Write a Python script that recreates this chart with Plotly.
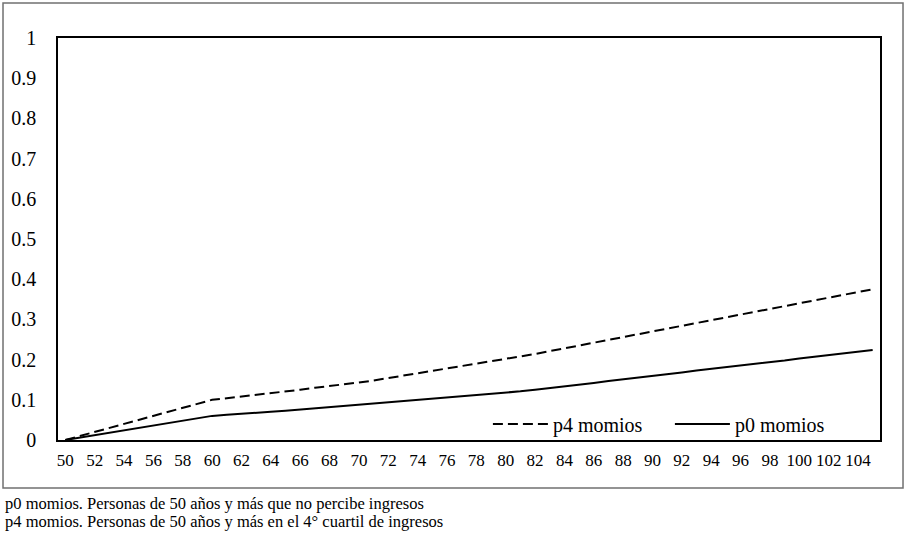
import plotly.graph_objects as go

# Ages (x axis) and the two series
ages = list(range(50, 106))

p4_momios = [
    0.000, 0.010, 0.020, 0.030, 0.040, 0.050, 0.060, 0.070, 0.080, 0.090,
    0.100, 0.104, 0.108, 0.113, 0.117, 0.121, 0.125, 0.130, 0.134, 0.138,
    0.143, 0.148, 0.154, 0.159, 0.165, 0.171, 0.177, 0.183, 0.189, 0.195,
    0.201, 0.208, 0.214, 0.221, 0.228, 0.235, 0.242, 0.249, 0.256, 0.263,
    0.270, 0.277, 0.284, 0.291, 0.298, 0.305, 0.312, 0.319, 0.326, 0.333,
    0.340, 0.347, 0.354, 0.361, 0.368, 0.375,
]

p0_momios = [
    0.000, 0.006, 0.012, 0.018, 0.024, 0.030, 0.036, 0.042, 0.048, 0.054,
    0.060, 0.063, 0.065, 0.068, 0.070, 0.073, 0.076, 0.078, 0.081, 0.084,
    0.087, 0.090, 0.093, 0.096, 0.099, 0.102, 0.105, 0.108, 0.111, 0.114,
    0.117, 0.121, 0.125, 0.129, 0.134, 0.138, 0.142, 0.147, 0.151, 0.156,
    0.160, 0.164, 0.168, 0.173, 0.177, 0.181, 0.185, 0.190, 0.194, 0.198,
    0.203, 0.207, 0.211, 0.215, 0.220, 0.224,
]

x_ticks = list(range(50, 105, 2))
y_ticks = [0, 0.1, 0.2, 0.3, 0.4, 0.5, 0.6, 0.7, 0.8, 0.9, 1]
y_tick_labels = ["0", "0.1", "0.2", "0.3", "0.4", "0.5", "0.6", "0.7", "0.8", "0.9", "1"]

notes = [
    "p0 momios. Personas de 50 años y más que no percibe ingresos",
    "p4 momios. Personas de 50 años y más en el 4° cuartil de ingresos",
]

SERIF = "Liberation Serif, Times New Roman, serif"

fig = go.Figure()
fig.add_trace(
    go.Scatter(
        x=ages, y=p4_momios, name="p4 momios", mode="lines",
        line=dict(color="black", width=2, dash="10px,5px"),
    )
)
fig.add_trace(
    go.Scatter(
        x=ages, y=p0_momios, name="p0 momios", mode="lines",
        line=dict(color="black", width=2),
    )
)

fig.update_layout(
    width=910,
    height=533,
    autosize=False,
    margin=dict(l=58, r=30, t=38, b=93, autoexpand=False),
    paper_bgcolor="white",
    plot_bgcolor="white",
    font=dict(family=SERIF, color="black", size=18),
    showlegend=True,
    legend=dict(
        orientation="h",
        x=0.523, y=0.04, xanchor="left", yanchor="middle",
        bgcolor="rgba(0,0,0,0)",
        font=dict(family=SERIF, size=20),
        entrywidth=112, entrywidthmode="pixels",
        itemwidth=55,
    ),
)

fig.update_xaxes(
    range=[49.5, 105.5],
    tickvals=x_ticks,
    ticktext=[str(v) for v in x_ticks],
    tickfont=dict(family=SERIF, size=17),
    tickangle=0,
    automargin=False,
    showgrid=False, zeroline=False,
    showline=True, linecolor="black", linewidth=1.5, mirror=True,
    ticks="", ticklabelstandoff=4,
)
fig.update_yaxes(
    range=[0, 1],
    tickvals=y_ticks,
    ticktext=y_tick_labels,
    tickfont=dict(family=SERIF, size=20),
    automargin=False,
    showgrid=False, zeroline=False,
    showline=True, linecolor="black", linewidth=1.5, mirror=True,
    ticks="", ticklabelstandoff=16,
)

# outer frame around the whole chart
fig.add_shape(
    type="rect", xref="paper", yref="paper",
    x0=-0.0669, x1=1.028, y0=-0.1194, y1=1.087,
    line=dict(color="#707070", width=1.5),
)

for i, txt in enumerate(notes):
    fig.add_annotation(
        text=txt, xref="paper", yref="paper",
        x=-0.0669, y=-0.157 - i * 0.0448,
        xanchor="left", yanchor="middle", showarrow=False,
        font=dict(family=SERIF, size=16.5),
    )

# drop the browser's default body margin so the page starts at the corner
fig.write_html(
    "out.html",
    config={"displayModeBar": False},
    post_script="document.body.style.margin = '0px';",
)
